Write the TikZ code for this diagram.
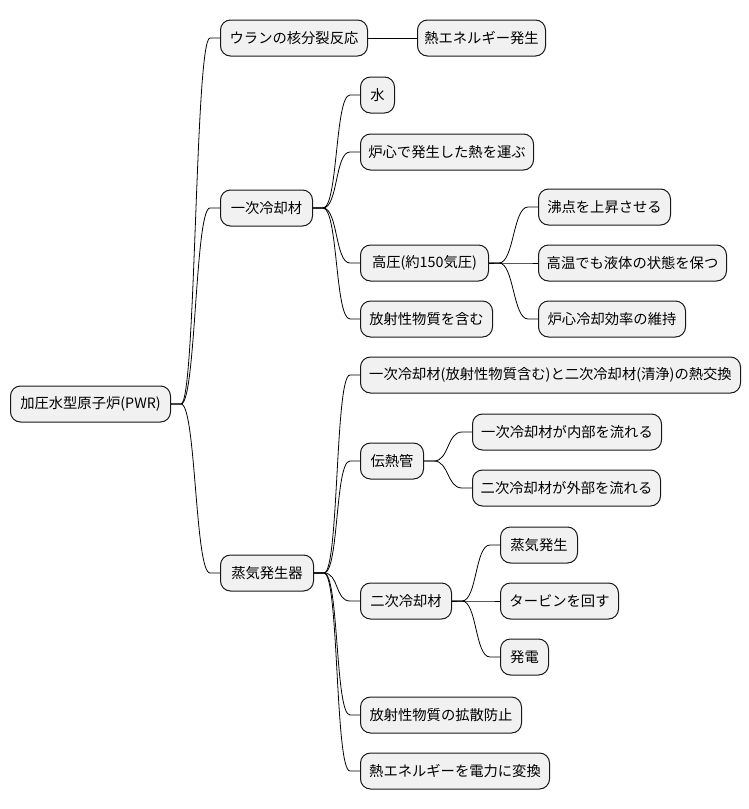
\documentclass[tikz,border=0pt]{standalone}
\usepackage{fontspec}
\setmainfont{Noto Sans CJK JP}
\usetikzlibrary{calc}
\definecolor{nodefill}{HTML}{F1F1F1}
\definecolor{nodeline}{HTML}{181818}
\tikzset{
  nd/.style={draw=nodeline, fill=nodefill, line width=1pt, rounded corners=10pt,
    minimum height=36pt, inner xsep=4pt, inner ysep=0pt, anchor=west,
    font=\fontsize{14.3}{17}\selectfont},
  edge/.style={draw=black, line width=0.8pt}
}
\newcommand\conn[2]{\draw[edge] (#1.east) -- ++(10,0) .. controls +(15,0) and ($(#2.west)+(-25,0)$) .. ($(#2.west)+(-10,0)$) -- (#2.west);}
\begin{document}
\begin{tikzpicture}[x=1pt,y=-1pt]
\useasboundingbox (0,0) rectangle (749,809);
\node[nd, minimum width=160pt] (root) at (10,404) {加圧水型原子炉(PWR)};
\node[nd, minimum width=147pt] (uran) at (220,38) {ウランの核分裂反応};
\node[nd, minimum width=128pt] (netsu) at (417,38) {熱エネルギー発生};
\node[nd, minimum width=92pt] (ichiji) at (220,208) {一次冷却材};
\node[nd, minimum width=34pt] (mizu) at (360,95) {水};
\node[nd, minimum width=173pt] (hakobu) at (360,152) {炉心で発生した熱を運ぶ};
\node[nd, minimum width=128pt] (koatsu) at (360,263) {高圧(約150気圧)};
\node[nd, minimum width=132pt] (hosha) at (360,319) {放射性物質を含む};
\node[nd, minimum width=132pt] (futten) at (538,207) {沸点を上昇させる};
\node[nd, minimum width=188pt] (koon) at (538,263) {高温でも液体の状態を保つ};
\node[nd, minimum width=147pt] (iji) at (538,319) {炉心冷却効率の維持};
\node[nd, minimum width=93pt] (joki) at (220,573) {蒸気発生器};
\node[nd, minimum width=380pt] (kokan) at (360,375) {一次冷却材(放射性物質含む)と二次冷却材(清浄)の熱交換};
\node[nd, minimum width=63pt] (dennetsu) at (360,461) {伝熱管};
\node[nd, minimum width=189pt] (naibu) at (472,432) {一次冷却材が内部を流れる};
\node[nd, minimum width=188pt] (gaibu) at (472,488) {二次冷却材が外部を流れる};
\node[nd, minimum width=91pt] (niji) at (360,601) {二次冷却材};
\node[nd, minimum width=77pt] (jhassei) at (500,545) {蒸気発生};
\node[nd, minimum width=118pt] (turbine) at (500,601) {タービンを回す};
\node[nd, minimum width=48pt] (hatsuden) at (500,657) {発電};
\node[nd, minimum width=161pt] (kakusan) at (360,715) {放射性物質の拡散防止};
\node[nd, minimum width=189pt] (henkan) at (360,771) {熱エネルギーを電力に変換};
\conn{root}{uran}
\conn{root}{ichiji}
\conn{root}{joki}
\draw[edge] (uran.east) -- (netsu.west);
\conn{ichiji}{mizu}
\conn{ichiji}{hakobu}
\conn{ichiji}{koatsu}
\conn{ichiji}{hosha}
\conn{koatsu}{futten}
\conn{koatsu}{koon}
\conn{koatsu}{iji}
\conn{joki}{kokan}
\conn{joki}{dennetsu}
\conn{joki}{niji}
\conn{joki}{kakusan}
\conn{joki}{henkan}
\conn{dennetsu}{naibu}
\conn{dennetsu}{gaibu}
\conn{niji}{jhassei}
\conn{niji}{turbine}
\conn{niji}{hatsuden}
\end{tikzpicture}
\end{document}
